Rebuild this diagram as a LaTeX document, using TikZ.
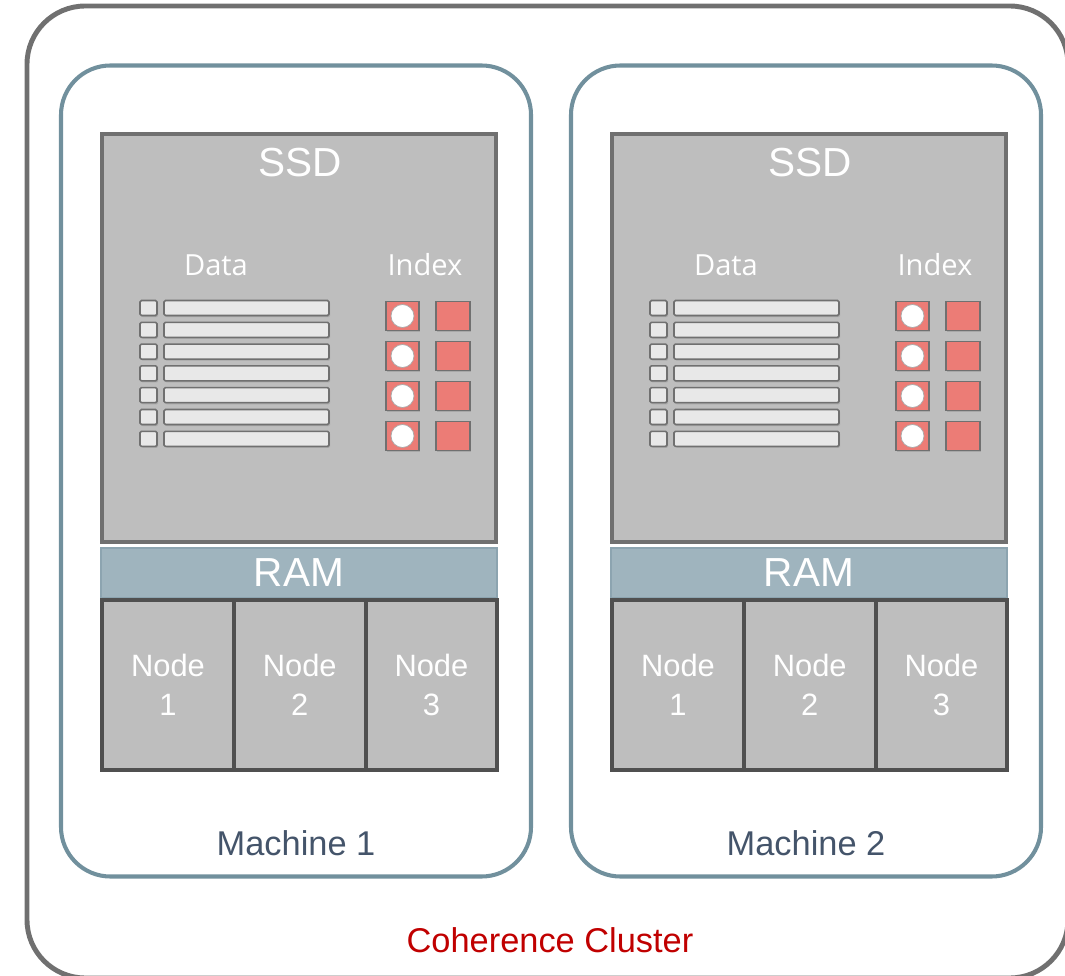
\documentclass[tikz,border=0pt]{standalone}
\usepackage{fontspec}
\setmainfont{Liberation Sans}
\newfontfamily\osans{Open Sans}
\usetikzlibrary{shadows}
\definecolor{clgrey}{RGB}{112,112,112}
\definecolor{mchblue}{RGB}{113,144,157}
\definecolor{ssdfill}{RGB}{190,190,190}
\definecolor{ramfill}{RGB}{159,180,190}
\definecolor{ramedge}{RGB}{140,164,176}
\definecolor{jvmedge}{RGB}{80,80,80}
\definecolor{barfill}{RGB}{232,232,232}
\definecolor{idxred}{RGB}{236,124,118}
\definecolor{slatetxt}{RGB}{68,84,106}
\definecolor{clred}{RGB}{192,0,0}
\newcommand{\pxl}{0.5669pt}

\begin{document}
\begin{tikzpicture}[x=\pxl, y=-\pxl,
  cluster/.style={draw=clgrey,line width=2.8pt,rounded corners=33pt,
                  minimum width=1041*\pxl,minimum height=972*\pxl,inner sep=0pt},
  machine/.style={draw=mchblue,line width=2.3pt,rounded corners=28pt,
                  minimum width=470*\pxl,minimum height=811*\pxl,inner sep=0pt},
  ssd/.style={draw=clgrey,fill=ssdfill,line width=2.2pt,
              minimum width=394*\pxl,minimum height=408*\pxl,inner sep=0pt},
  ram/.style={draw=ramedge,fill=ramfill,line width=1.5pt,text=white,font=\fontsize{23}{26}\selectfont,
              minimum width=396*\pxl,minimum height=50*\pxl,inner sep=0pt},
  jvm/.style={draw=jvmedge,fill=ssdfill,line width=2.3pt,text=white,align=center,
              font=\fontsize{17.5}{22}\selectfont,
              minimum width=131.7*\pxl,minimum height=170*\pxl,inner sep=0pt},
  big/.style={text=white,font=\fontsize{23}{26}\selectfont,inner sep=0pt},
  col/.style={text=white,font=\osans\fontsize{16.5}{19}\selectfont,inner sep=0pt},
  mlabel/.style={text=slatetxt,font=\fontsize{19.5}{22}\selectfont,inner sep=0pt},
  dkey/.style={draw=clgrey,fill=barfill,line width=0.9pt,rounded corners=0.8pt,
               minimum width=17*\pxl,minimum height=15*\pxl,inner sep=0pt,
               drop shadow={shadow xshift=0.7pt,shadow yshift=-0.9pt,opacity=0.35}},
  dbar/.style={dkey,minimum width=165*\pxl},
  ikey/.style={draw=clgrey,fill=idxred,line width=0.6pt,
               minimum width=33*\pxl,minimum height=29*\pxl,inner sep=0pt,
               drop shadow={shadow xshift=0.7pt,shadow yshift=-0.9pt,opacity=0.35}},
  ival/.style={ikey,minimum width=34*\pxl},
  hole/.style={circle,draw=clgrey!60,fill=white,line width=0.4pt,
               minimum size=23*\pxl,inner sep=0pt}]

\useasboundingbox (0,0) rectangle (1065,976);
\clip (0,0) rectangle (1065,976);

\node[cluster] (cl) at (547.5,492) {};
\node[text=clred,font=\fontsize{19.5}{22}\selectfont,inner sep=0pt] (cltxt) at (550,940) {Coherence Cluster};

\foreach \m/\dx in {1/0,2/510} {
  \node[machine] (m\m) at ({296+\dx},471) {};
  \node[mlabel] (mt\m) at ({296+\dx},843) {Machine \m};

  \node[ssd] (ssd\m) at ({299+\dx},338) {};
  \node[big] (st\m) at ({300+\dx},163) {SSD};
  \node[col] (dt\m) at ({216+\dx},265) {Data};
  \node[col] (it\m) at ({425+\dx},265) {Index};

  % data entries: key + value bar
  \foreach \i in {0,...,6} {
    \node[dkey] (dk\m\i) at ({148.5+\dx},{308+21.8*\i}) {};
    \node[dbar] (db\m\i) at ({246.5+\dx},{308+21.8*\i}) {};
  }
  % index entries
  \foreach \i in {0,...,3} {
    \node[ikey] (ik\m\i) at ({402.5+\dx},{316+40*\i}) {};
    \node[hole] at (ik\m\i) {};
    \node[ival] (iv\m\i) at ({453+\dx},{316+40*\i}) {};
  }

  \node[ram] (ram\m) at ({299+\dx},573) {RAM};
  \foreach \j/\x in {1/168,2/299.7,3/431.4}
    \node[jvm] (nd\m\j) at ({\x+\dx},685) {Node\\\j};
}
\end{tikzpicture}
\end{document}
